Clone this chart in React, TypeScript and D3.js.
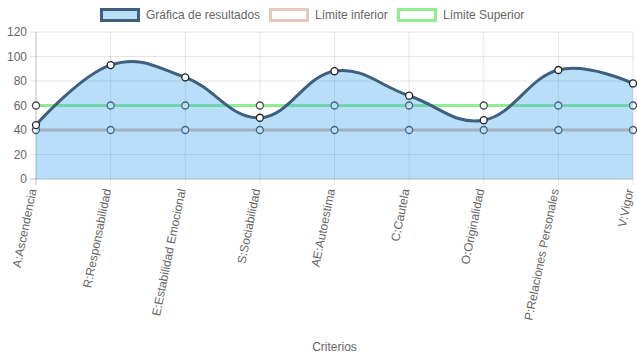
import React from "react"
import * as d3 from "d3"

// Data
const categories = [
  "A:Ascendencia",
  "R:Responsabilidad",
  "E:Estabilidad Emocional",
  "S:Sociabilidad",
  "AE:Autoestima",
  "C:Cautela",
  "O:Originalidad",
  "P:Relaciones Personales",
  "V:Vigor",
]
const resultados = [44, 93, 83, 50, 88, 68, 48, 89, 78]
const limiteInferior = [40, 40, 40, 40, 40, 40, 40, 40, 40]
const limiteSuperior = [60, 60, 60, 60, 60, 60, 60, 60, 60]
const yTicks = [0, 20, 40, 60, 80, 100, 120]

const width = 637
const height = 359
const margin = { top: 32, right: 4, bottom: 180, left: 36 }

const textColor = "#666"
const gridColor = "rgba(0,0,0,0.1)"
const fillColor = "rgba(54,162,235,0.35)"
const resultColor = "rgb(62,95,128)"
const lowerColor = "rgb(222,184,170)"
const upperColor = "rgb(144,238,144)"

const legendItems = [
  { label: "Gráfica de resultados", stroke: resultColor, fill: fillColor, x: 100 },
  { label: "Límite inferior", stroke: "rgb(230,200,188)", fill: "#fff", x: 269 },
  { label: "Límite Superior", stroke: upperColor, fill: "#fff", x: 397 },
]

const App: React.FC = () => {
  const x = d3.scalePoint<string>()
    .domain(categories)
    .range([margin.left, width - margin.right])

  const y = d3.scaleLinear()
    .domain([0, 120])
    .range([height - margin.bottom, margin.top])

  const curve = d3.curveCardinal.tension(-0.2)

  const line = d3.line<number>()
    .x((_d, i) => x(categories[i]) as number)
    .y(d => y(d))
    .curve(curve)

  const area = d3.area<number>()
    .x((_d, i) => x(categories[i]) as number)
    .y0(y(0))
    .y1(d => y(d))
    .curve(curve)

  const font = "'Liberation Sans', Arial, sans-serif"

  return (
    <svg
      width={width}
      height={height}
      style={{ position: "absolute", left: 0, top: 0, fontFamily: font }}
    >
      <rect width={width} height={height} fill="#fff" />

      {/* legend */}
      {legendItems.map(item => (
        <g key={item.label}>
          <rect x={item.x + 1.5} y={9.5} width={37} height={11} fill={item.fill}
            stroke={item.stroke} strokeWidth={3} />
          <text x={item.x + 46} y={15} dy="0.35em" fontSize={12} fill={textColor}>
            {item.label}
          </text>
        </g>
      ))}

      {/* horizontal grid + y ticks */}
      {yTicks.map(t => (
        <g key={t}>
          <line x1={margin.left - 6} x2={width - margin.right} y1={y(t)} y2={y(t)}
            stroke={t === 0 ? "rgba(0,0,0,0.25)" : gridColor} />
          <text x={margin.left - 9} y={y(t)} dy="0.35em" textAnchor="end"
            fontSize={12} fill={textColor}>{t}</text>
        </g>
      ))}

      {/* vertical grid + x labels */}
      {categories.map((c, i) => (
        <g key={c}>
          <line x1={x(c)} x2={x(c)} y1={margin.top} y2={y(0) + 6}
            stroke={i === 0 ? "rgba(0,0,0,0.25)" : gridColor} />
          <text
            transform={`translate(${(x(c) as number) - 3},${y(0) + 10}) rotate(-78.5)`}
            dy="0.3em" textAnchor="end" fontSize={12} fill={textColor}
          >{c}</text>
        </g>
      ))}

      {/* limit lines */}
      <path d={line(limiteInferior) ?? ""} fill="none" stroke={lowerColor} strokeWidth={3} />
      <path d={line(limiteSuperior) ?? ""} fill="none" stroke={upperColor} strokeWidth={3} />
      {[limiteInferior, limiteSuperior].map((s, k) =>
        s.map((v, i) => (
          <circle key={`${k}-${i}`} cx={x(categories[i])} cy={y(v)} r={3.5}
            fill="#fff" stroke="#4a4a4a" strokeWidth={1.3} />
        ))
      )}

      {/* results */}
      <path d={area(resultados) ?? ""} fill={fillColor} />
      <path d={line(resultados) ?? ""} fill="none" stroke={resultColor} strokeWidth={3} />
      {resultados.map((v, i) => (
        <circle key={i} cx={x(categories[i])} cy={y(v)} r={3.5}
          fill="#fff" stroke="#222" strokeWidth={1.3} />
      ))}

      {/* axis title */}
      <text x={(margin.left + width - margin.right) / 2} y={347} dy="0.35em"
        textAnchor="middle" fontSize={12} fill={textColor}>Criterios</text>
    </svg>
  )
}

export default App
